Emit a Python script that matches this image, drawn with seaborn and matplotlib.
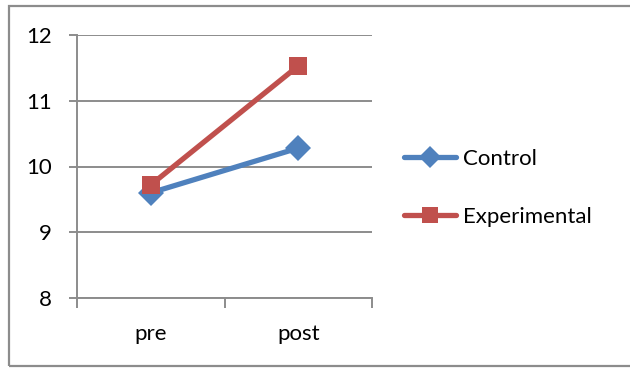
import matplotlib
matplotlib.use("Agg")
import matplotlib.pyplot as plt
from matplotlib.patches import Rectangle
from matplotlib.ticker import FixedLocator
import seaborn as sns
import pandas as pd

phases = ["pre", "post"]
control = [9.6, 10.28]
experimental = [9.72, 11.53]
groups = ["Control", "Experimental"]
y_ticks = [8, 9, 10, 11, 12]

df = pd.DataFrame({
    "phase": phases * 2,
    "score": control + experimental,
    "group": [groups[0]] * 2 + [groups[1]] * 2,
})

sns.set_style("white")
plt.rcParams["font.family"] = ["Lato", "DejaVu Sans"]
plt.rcParams["text.color"] = "black"
plt.rcParams["xtick.labelcolor"] = "black"
plt.rcParams["ytick.labelcolor"] = "black"

W, H = 630, 368
fs = 16
fig = plt.figure(figsize=(W / 100, H / 100), dpi=100)
ax = fig.add_axes([77 / W, 1 - 298 / H, 295 / W, 263 / H])

grey = "#8c8c8c"
palette = {"Control": "#4F81BD", "Experimental": "#C0504D"}
sns.lineplot(data=df, x="phase", y="score", hue="group", style="group",
             markers={"Control": "D", "Experimental": "s"}, dashes=False,
             palette=palette, linewidth=3.8, markersize=13,
             markeredgewidth=0, ax=ax, sort=False)

ax.set_xlim(-0.5, 1.5)
ax.set_ylim(8, 12)
ax.set_yticks(y_ticks)
ax.set_xlabel("")
ax.set_ylabel("")
ax.grid(axis="y", color=grey, linewidth=1.4)
ax.set_axisbelow(True)
for side in ["top", "right"]:
    ax.spines[side].set_visible(False)
for side in ["left", "bottom"]:
    ax.spines[side].set_color(grey)
    ax.spines[side].set_linewidth(1.4)

ax.tick_params(axis="y", which="major", left=True, length=6, width=1.4,
               color=grey, labelsize=fs, pad=12, labelcolor="black")
ax.tick_params(axis="x", which="major", length=0, labelsize=fs, pad=19,
               labelcolor="black")
ax.xaxis.set_minor_locator(FixedLocator([-0.5, 0.5, 1.5]))
ax.tick_params(axis="x", which="minor", bottom=True, length=7, width=1.4,
               color=grey)

handles, labels = ax.get_legend_handles_labels()
ax.legend_.remove()
leg = fig.legend(handles, labels, loc="center left",
                 bbox_to_anchor=(384 / W, 1 - 188 / H), frameon=False,
                 fontsize=fs, handlelength=2.35, handletextpad=0.3,
                 labelspacing=1.72, markerscale=0.85)
for t in leg.get_texts():
    t.set_color("black")

fig.patches.append(Rectangle((9 / W, 2 / H), 640 / W, 360 / H,
                             transform=fig.transFigure, fill=False,
                             edgecolor=grey, linewidth=1.6))

fig.savefig("out.png", dpi=100)
